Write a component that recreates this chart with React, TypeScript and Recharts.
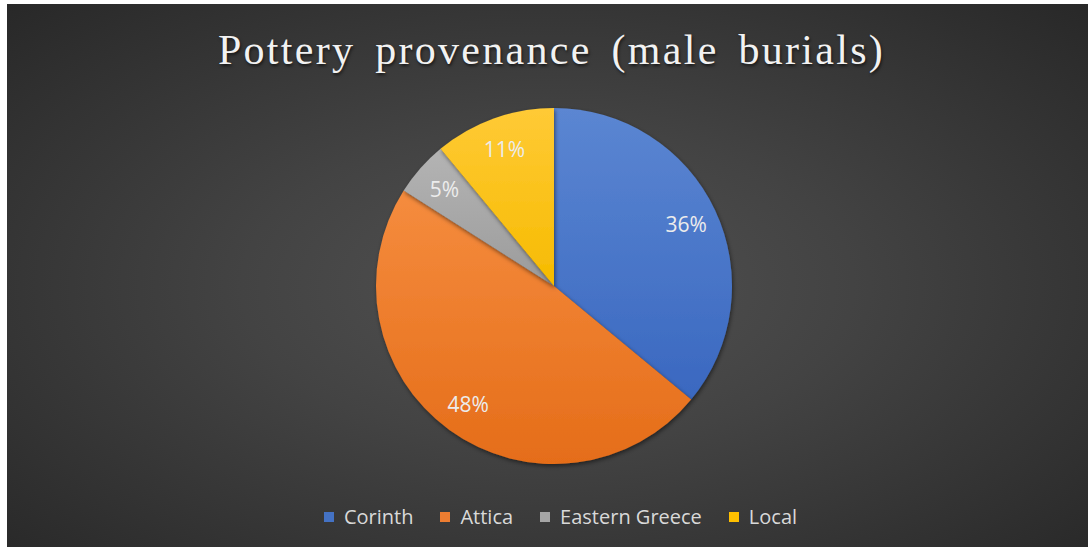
import React from 'react';
import { PieChart, Pie, Cell, Legend } from 'recharts';

const categories = ['Corinth', 'Attica', 'Eastern Greece', 'Local'];
const shares = [36, 48, 5, 11];
const colors = ['#4472c4', '#ed7d31', '#a5a5a5', '#ffc000'];
const gradTop = ['#5b86d2', '#f58c3e', '#b4b4b4', '#ffca36'];
const gradBottom = ['#3a68c0', '#e56d19', '#9b9b9b', '#f6bb00'];

const data = categories.map((name, i) => ({ name, value: shares[i] }));

const RAD = Math.PI / 180;

const renderLabel = (props: any) => {
  const { cx, cy, midAngle, outerRadius, percent } = props;
  const r = outerRadius * 0.82;
  const x = cx + r * Math.cos(-midAngle * RAD);
  const y = cy + r * Math.sin(-midAngle * RAD);
  return (
    <text
      x={x}
      y={y}
      fill="#ececec"
      fontSize={21}
      fontFamily="'Open Sans', sans-serif"
      textAnchor="middle"
      dominantBaseline="central"
    >
      {`${Math.round(percent * 100)}%`}
    </text>
  );
};

const renderLegend = () => (
  <div
    style={{
      display: 'flex',
      justifyContent: 'center',
      gap: 27,
      paddingLeft: 26,
      fontFamily: "'Open Sans', sans-serif",
      fontSize: 20,
      color: '#d9d9d9',
    }}
  >
    {categories.map((c, i) => (
      <div key={c} style={{ display: 'flex', alignItems: 'center' }}>
        <span style={{ width: 10, height: 10, background: colors[i], marginRight: 10, display: 'inline-block' }} />
        <span>{c}</span>
      </div>
    ))}
  </div>
);

export default function App() {
  return (
    <div
      style={{
        position: 'absolute',
        left: 7,
        top: 4,
        width: 1081,
        height: 543,
        background: 'radial-gradient(ellipse at 50% 52%, #525252 0%, #434343 40%, #282828 100%)',
        overflow: 'hidden',
      }}
    >
      <div
        style={{
          position: 'absolute',
          top: 22,
          left: 0,
          width: '100%',
          textAlign: 'center',
          fontFamily: "'Liberation Serif', 'Times New Roman', serif",
          fontSize: 42,
          letterSpacing: 2.3,
          wordSpacing: 7,
          color: '#f2f2f2',
          textShadow: '1px 2px 3px rgba(0,0,0,0.6)',
          paddingLeft: 4,
        }}
      >
        Pottery provenance (male burials)
      </div>
      <PieChart
        width={1081}
        height={543}
        margin={{ top: 0, right: 0, bottom: 0, left: 0 }}
        style={{ position: 'absolute', left: 0, top: 0 }}
      >
        <defs>
          {categories.map((c, i) => (
            <linearGradient key={c} id={`g${i}`} x1="0" y1="0" x2="0" y2="1">
              <stop offset="0%" stopColor={gradTop[i]} />
              <stop offset="100%" stopColor={gradBottom[i]} />
            </linearGradient>
          ))}
          <filter id="shadow" x="-10%" y="-10%" width="120%" height="120%">
            <feDropShadow dx="1" dy="2" stdDeviation="2" floodColor="#000" floodOpacity="0.5" />
          </filter>
        </defs>
        <Pie
          data={data}
          dataKey="value"
          nameKey="name"
          cx={547}
          cy={282}
          outerRadius={178}
          startAngle={90}
          endAngle={-270}
          stroke="none"
          label={renderLabel}
          labelLine={false}
          isAnimationActive={false}
        >
          {data.map((d, i) => (
            <Cell key={d.name} fill={`url(#g${i})`} filter="url(#shadow)" />
          ))}
        </Pie>
        <Legend
          content={renderLegend}
          wrapperStyle={{ position: 'absolute', top: 499, left: 0, width: 1081 }}
        />
      </PieChart>
    </div>
  );
}
